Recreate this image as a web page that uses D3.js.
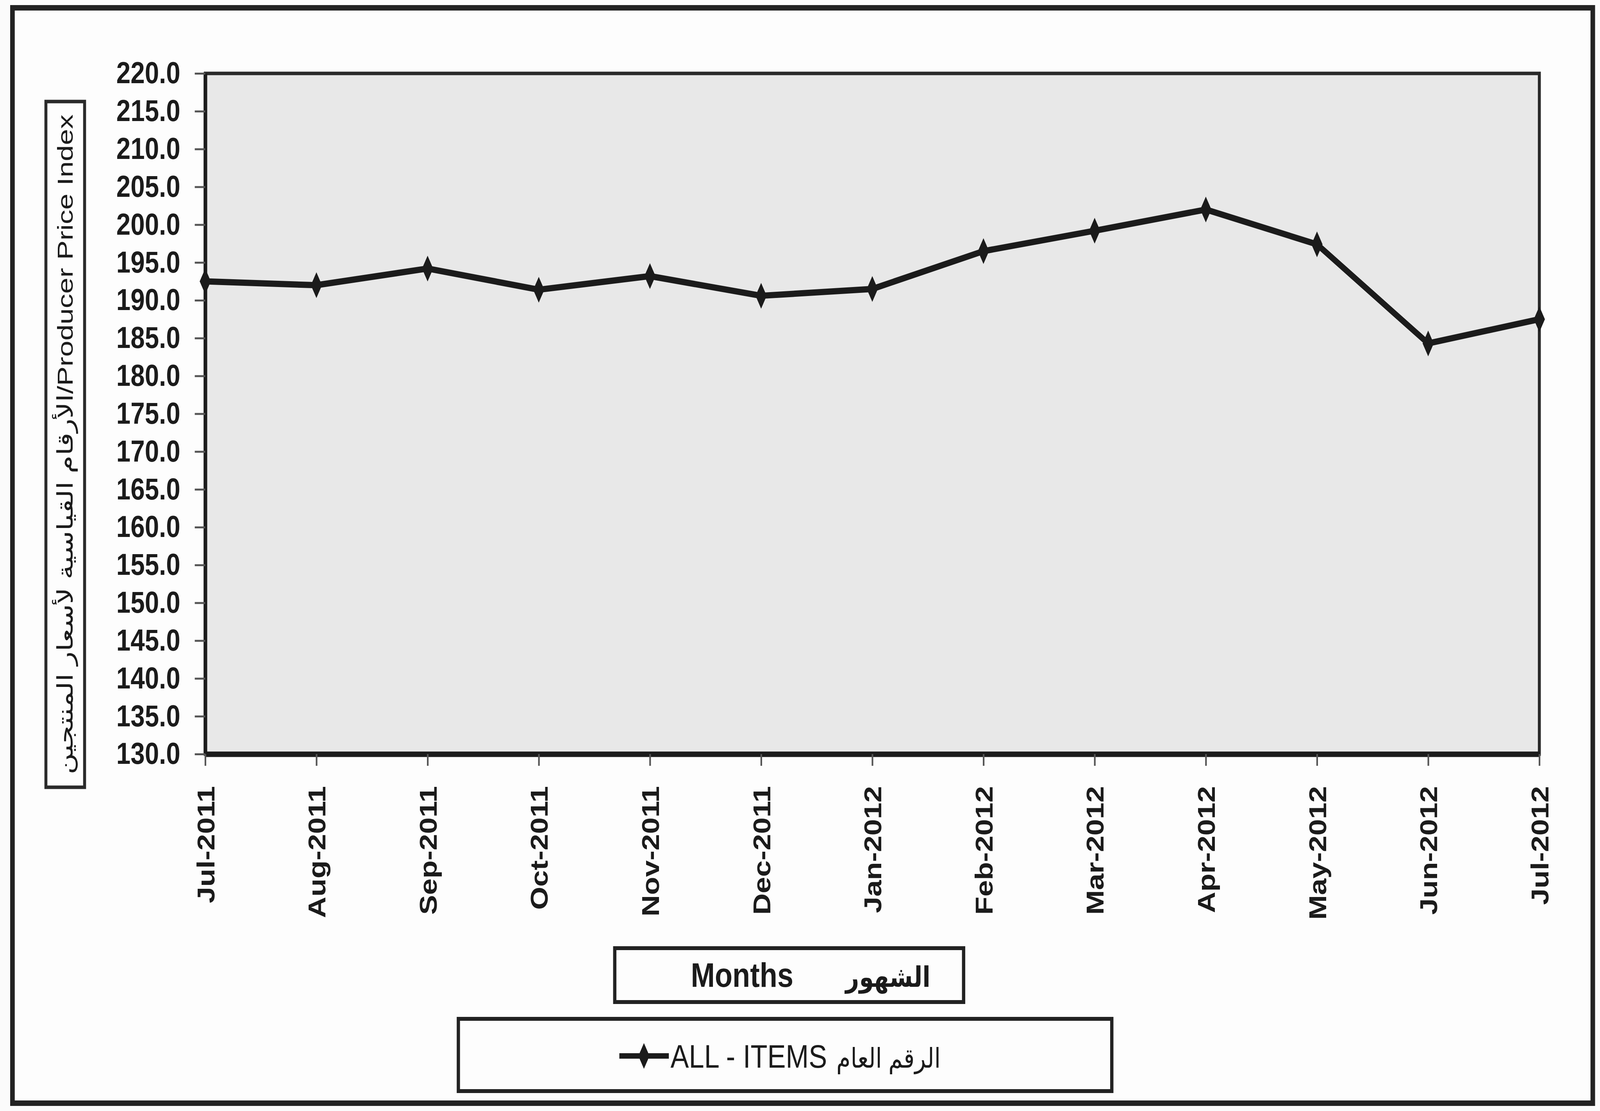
<!DOCTYPE html>
<html>
<head>
<meta charset="utf-8">
<script src="https://cdn.jsdelivr.net/npm/d3@7/dist/d3.min.js"></script>
<style>
  html, body { margin: 0; padding: 0; background: #fbfbfb; overflow: hidden; width: 100%; height: 100%; }
  svg { display: block; width: 100vw; height: 100vh; }
</style>
</head>
<body>
<svg id="chart" viewBox="0 0 4880 2845" preserveAspectRatio="none"></svg>
<script>
// ---- data ----
const months = ["Jul-2011","Aug-2011","Sep-2011","Oct-2011","Nov-2011","Dec-2011",
                "Jan-2012","Feb-2012","Mar-2012","Apr-2012","May-2012","Jun-2012","Jul-2012"];
const allItems = [192.5, 192.0, 194.2, 191.4, 193.2, 190.6, 191.5, 196.5, 199.2, 202.0, 197.4, 184.3, 187.5];
const yTicks = [130,135,140,145,150,155,160,165,170,175,180,185,190,195,200,205,210,215,220];
const yTitle = "الأرقام القياسية لأسعار المنتجين/Producer Price Index";
const xTitleEn = "Months";
const xTitleAr = "الشهور";
const seriesEn = "ALL - ITEMS";
const seriesAr = "الرقم العام";

// ---- layout ----
const W = 4880, H = 2845;
const plot = {left: 626, top: 188, right: 4695, bottom: 1931};
const FONT = "'Liberation Sans', Arial, 'DejaVu Sans', sans-serif";
const ink = "#1b1b1b";

const svg = d3.select("#chart");

// outer frame
svg.append("rect").attr("x", 0).attr("y", 0).attr("width", W).attr("height", H).attr("fill", "#fbfbfb");
svg.append("rect").attr("x", 38).attr("y", 20).attr("width", 4820).attr("height", 2805)
  .attr("fill", "#fdfdfd").attr("stroke", "#222").attr("stroke-width", 14);

const x = d3.scalePoint().domain(months).range([plot.left, plot.right]);
const y = d3.scaleLinear().domain([130, 220]).range([plot.bottom, plot.top]);

// plot area
svg.append("rect")
  .attr("x", plot.left).attr("y", plot.top)
  .attr("width", plot.right - plot.left).attr("height", plot.bottom - plot.top)
  .attr("fill", "#e8e8e8").attr("stroke", "#2a2a2a").attr("stroke-width", 9);

// y axis
const yAxis = d3.axisLeft(y).tickValues(yTicks).tickFormat(d3.format(".1f"))
  .tickSizeInner(32).tickSizeOuter(0).tickPadding(44);
const gy = svg.append("g").attr("transform", `translate(${plot.left},0)`).call(yAxis);
gy.select(".domain").attr("stroke", ink).attr("stroke-width", 11);
gy.selectAll(".tick line").attr("stroke", "#555").attr("stroke-width", 5);
gy.selectAll(".tick text").attr("fill", ink).attr("font-family", FONT)
  .attr("font-weight", "bold").attr("font-size", 78);

// x axis
const xAxis = d3.axisBottom(x).tickSizeInner(30).tickSizeOuter(0).tickPadding(0);
const gx = svg.append("g").attr("transform", `translate(0,${plot.bottom})`).call(xAxis);
gx.select(".domain").attr("stroke", ink).attr("stroke-width", 14);
gx.selectAll(".tick line").attr("stroke", "#555").attr("stroke-width", 5);
gx.selectAll(".tick text").attr("fill", ink).attr("font-family", FONT)
  .attr("font-weight", "bold").attr("font-size", 76)
  .attr("text-anchor", "end").attr("dy", null)
  .attr("transform", "translate(27,82) rotate(-90)")
  .attr("x", 0).attr("y", 0);

// series line
const line = d3.line().x((d, i) => x(months[i])).y(d => y(d));
svg.append("path").datum(allItems)
  .attr("d", line).attr("fill", "none").attr("stroke", ink)
  .attr("stroke-width", 16).attr("stroke-linejoin", "round");

const diamondPath = "M0,-33L17,0L0,33L-17,0Z";
svg.append("g").selectAll("path").data(allItems).join("path")
  .attr("d", diamondPath)
  .attr("transform", (d, i) => `translate(${x(months[i])},${y(d)})`)
  .attr("fill", ink);

// y title box
svg.append("rect").attr("x", 140).attr("y", 260).attr("width", 118).attr("height", 1756)
  .attr("fill", "#fdfdfd").attr("stroke", "#2a2a2a").attr("stroke-width", 9);
const yt = svg.append("text")
  .attr("transform", `translate(222,${(260 + 2016) / 2}) rotate(-90)`)
  .attr("text-anchor", "middle").attr("font-family", FONT)
  .attr("font-size", 66).attr("fill", ink).text(yTitle);
(function fit(sel, target) {
  const len = sel.node().getComputedTextLength();
  const k = target / len;
  sel.attr("transform", sel.attr("transform") + ` scale(${k},1)`);
})(yt, 1690);

// Months box
svg.append("rect").attr("x", 1875).attr("y", 2428).attr("width", 1064).attr("height", 138)
  .attr("fill", "#fdfdfd").attr("stroke", "#222").attr("stroke-width", 10);
svg.append("text").attr("x", 2107).attr("y", 2527).attr("font-family", FONT)
  .attr("font-weight", "bold").attr("font-size", 88).attr("fill", ink).text(xTitleEn);
svg.append("text").attr("x", 2838).attr("y", 2527).attr("text-anchor", "end")
  .attr("font-family", FONT).attr("font-weight", "bold")
  .attr("font-size", 72).attr("fill", ink).text(xTitleAr);

// legend box
svg.append("rect").attr("x", 1398).attr("y", 2609).attr("width", 1993).attr("height", 185)
  .attr("fill", "#fdfdfd").attr("stroke", "#222").attr("stroke-width", 10);
const ly = 2704;
svg.append("line").attr("x1", 1889).attr("x2", 2040).attr("y1", ly).attr("y2", ly)
  .attr("stroke", ink).attr("stroke-width", 14);
svg.append("path").attr("d", diamondPath).attr("transform", `translate(1964,${ly})`).attr("fill", ink);
svg.append("text").attr("x", 2045).attr("y", ly + 30).attr("font-family", FONT)
  .attr("font-size", 84).attr("fill", ink).text(seriesEn);
svg.append("text").attr("x", 2869).attr("y", ly + 30).attr("text-anchor", "end")
  .attr("font-family", FONT).attr("font-size", 70).attr("fill", ink).text(seriesAr);
</script>
</body>
</html>
